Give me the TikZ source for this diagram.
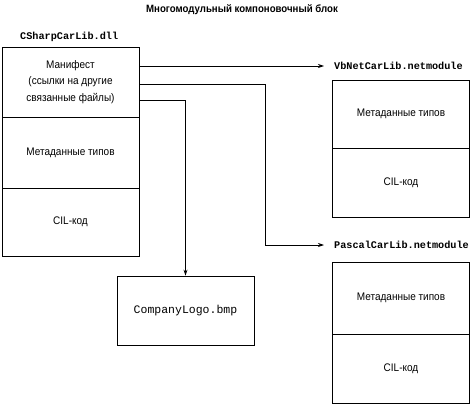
\documentclass[tikz,border=0pt]{standalone}
\usepackage{fontspec}
\setmainfont{Liberation Sans}[FakeStretch=0.91]
\setmonofont{Liberation Mono}
\usetikzlibrary{arrows.meta}
\begin{document}
\begin{tikzpicture}[x=1pt,y=-1pt,
  part/.style={draw, line width=0.8pt, minimum width=137pt, inner sep=0pt, align=center, font=\fontsize{11}{16.5}\selectfont},
  lbl/.style={font=\fontsize{10.2}{12}\selectfont\ttfamily\bfseries, inner sep=0pt},
  conn/.style={line width=0.8pt, -{Stealth[length=6pt,width=4pt]}}]
\useasboundingbox (0,0) rectangle (471,404);
\node[font=\fontsize{10.6}{12}\selectfont\bfseries, inner sep=0pt] (title) at (242,10) {Многомодульный компоновочный блок};
\node[lbl, anchor=west] (cslbl) at (20,37) {CSharpCarLib.dll};
% left assembly
\node[part, minimum height=70pt] (man) at (70.5,82) {Манифест\\(ссылки на другие\\связанные файлы)};
\node[part, minimum height=71pt] (meta) at (70.5,152.5) {Метаданные типов};
\node[part, minimum height=68pt] (cil) at (70.5,222) {CIL-код};
% VbNet module
\node[lbl, anchor=west] (vblbl) at (334,66) {VbNetCarLib.netmodule};
\node[part, minimum height=68pt] (vbmeta) at (401,114) {Метаданные типов};
\node[part, minimum height=69pt] (vbcil) at (401,182.5) {CIL-код};
% Pascal module
\node[lbl, anchor=west] (palbl) at (334,245) {PascalCarLib.netmodule};
\node[part, minimum height=72pt] (pameta) at (401,298) {Метаданные типов};
\node[part, minimum height=69pt] (pacil) at (401,368.5) {CIL-код};
% logo file
\node[part, minimum height=69pt, font=\fontsize{11.5}{13}\selectfont\ttfamily] (logo) at (185.5,310.5) {CompanyLogo.bmp};
% connectors
\coordinate (s1) at (139,66);
\coordinate (s2) at (139,84);
\coordinate (s3) at (139,100);
\draw[conn] (s1) -- ([xshift=-10pt]vblbl.west);
\draw[conn] (s2) -- (265,84) |- ([xshift=-10pt]palbl.west);
\draw[conn] (s3) -| (logo.north);
\end{tikzpicture}
\end{document}
